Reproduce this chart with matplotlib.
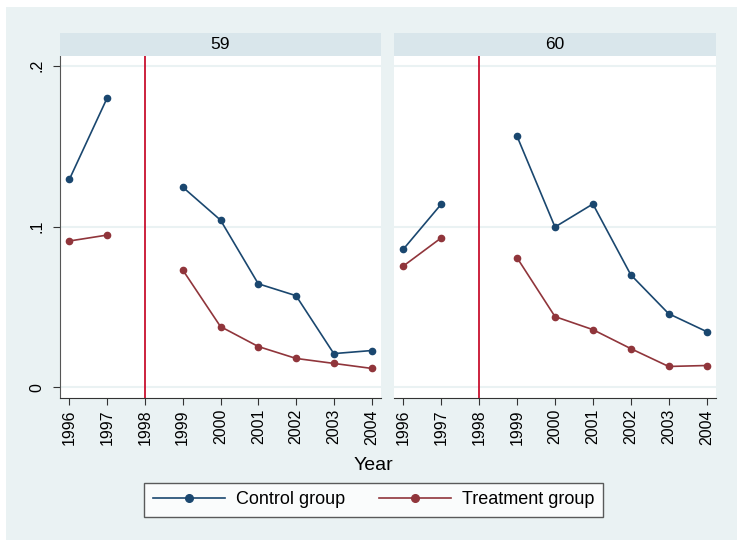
import numpy as np
import matplotlib
matplotlib.use("Agg")
import matplotlib.pyplot as plt
from matplotlib.patches import Rectangle
from matplotlib.lines import Line2D

plt.rcParams['font.family'] = ['Liberation Sans', 'DejaVu Sans']

years = [1996, 1997, 1998, 1999, 2000, 2001, 2002, 2003, 2004]
panels = ["59", "60"]

# 1998 is missing in the data (gap in the lines)
control_59 = [0.1294, 0.1800, np.nan, 0.1245, 0.1040, 0.0644, 0.0570, 0.0210, 0.0229]
treat_59 = [0.0910, 0.0947, np.nan, 0.0730, 0.0378, 0.0254, 0.0180, 0.0149, 0.0118]
control_60 = [0.0860, 0.1140, np.nan, 0.1560, 0.0997, 0.1140, 0.0700, 0.0458, 0.0347]
treat_60 = [0.0755, 0.0930, np.nan, 0.0805, 0.0440, 0.0359, 0.0241, 0.0130, 0.0136]

control = {"59": control_59, "60": control_60}
treat = {"59": treat_59, "60": treat_60}

BG = "#EAF2F3"
STRIP = "#D9E6EB"
NAVY = "#1A476F"
MAROON = "#90353B"
VLINE = "#C8102E"

W, H = 737, 540
fig = plt.figure(figsize=(W / 100, H / 100), dpi=100)
fig.patch.set_facecolor("white")
fig.patches.append(Rectangle((6 / W, 0), 1 - 6 / W, 1 - 7 / H, transform=fig.transFigure,
                             facecolor=BG, edgecolor="none", zorder=-10))


def px_axes(x0, y0, x1, y1):
    return fig.add_axes([x0 / W, 1 - y1 / H, (x1 - x0) / W, (y1 - y0) / H])


lefts = [(60, 381), (394, 716)]
for i, p in enumerate(panels):
    x0, x1 = lefts[i]
    ax = px_axes(x0, 56, x1, 398)
    ax.set_facecolor("white")
    for y in [0, 0.1, 0.2]:
        ax.axhline(y, color=BG, lw=1.5, zorder=0)
    ax.axvline(1998, color=VLINE, lw=1.3, zorder=1)
    ax.plot(years, control[p], color=NAVY, lw=1.2, marker="o", ms=4.5, zorder=3)
    ax.plot(years, treat[p], color=MAROON, lw=1.2, marker="o", ms=4.5, zorder=3)
    ax.set_xlim(1995.75, 2004.25)
    ax.set_ylim(-0.0066, 0.206)
    ax.set_xticks(years)
    ax.set_xticklabels([str(y) for y in years], rotation=90, fontsize=11.5)
    ax.tick_params(axis="x", length=5, color="#333333", pad=3)
    for s in ["top", "right"]:
        ax.spines[s].set_visible(False)
    ax.spines["bottom"].set_color("#333333")
    if i == 0:
        ax.spines["left"].set_color("#555555")
        ax.set_yticks([0, 0.1, 0.2])
        ax.set_yticklabels(["0", ".1", ".2"], rotation=90, va="center", fontsize=11.5)
        ax.tick_params(axis="y", length=5, color="#333333", pad=6)
    else:
        ax.spines["left"].set_visible(False)
        ax.set_yticks([])
    # strip
    sx = px_axes(x0, 33, x1, 56)
    sx.set_facecolor(STRIP)
    sx.set_xticks([])
    sx.set_yticks([])
    for s in sx.spines.values():
        s.set_visible(False)
    sx.text(0.5, 0.5, p, ha="center", va="center", fontsize=12.5, transform=sx.transAxes)

fig.text(373 / W, 1 - 466 / H, "Year", ha="center", va="center", fontsize=14)

handles = [Line2D([], [], color=NAVY, lw=1.2, marker="o", ms=5.5),
           Line2D([], [], color=MAROON, lw=1.2, marker="o", ms=5.5)]
leg = fig.legend(handles, ["Control group", "Treatment group"], loc="center",
                 bbox_to_anchor=(373.5 / W, 1 - 500 / H), ncol=2, fontsize=13,
                 frameon=True, fancybox=False, edgecolor="#333333",
                 handlelength=4.0, handletextpad=0.6, columnspacing=1.9,
                 borderpad=0.45, borderaxespad=0)
leg.get_frame().set_linewidth(1.0)

fig.savefig("out.png", dpi=100, facecolor=fig.get_facecolor())
